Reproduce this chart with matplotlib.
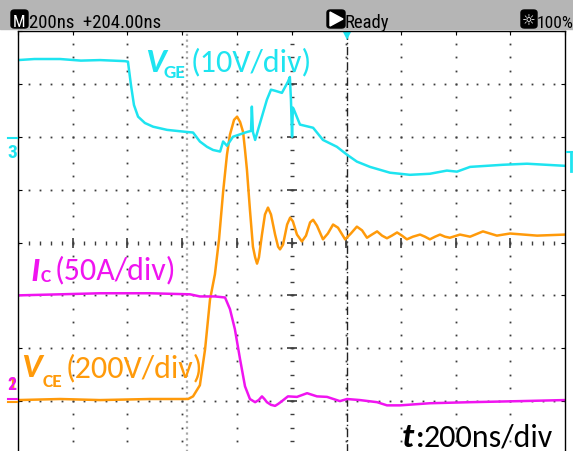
import numpy as np
import matplotlib
matplotlib.use('Agg')
import matplotlib.pyplot as plt
from matplotlib import font_manager
from matplotlib.patches import Rectangle, FancyBboxPatch, Polygon
from matplotlib.lines import Line2D

# time axis in ns (200 ns/div, 10 div), traces in screen divisions (-4..4)
vge_t = [0, 60, 154, 230, 300, 391, 402, 413, 424, 439, 464, 494, 545, 618,
         640, 665, 691, 713, 739, 750, 764, 786, 837, 852, 855, 859, 867,
         885, 910, 925, 940, 965, 987, 994, 998, 1002, 1005, 1009, 1031,
         1079, 1115, 1166, 1203, 1239, 1287, 1360, 1433, 1506, 1568, 1605,
         1653, 1773, 1861, 2000]
vge_v = [3.45, 3.47, 3.47, 3.44, 3.45, 3.43, 3.42, 2.98, 2.60, 2.38, 2.26,
         2.19, 2.13, 2.09, 2.08, 1.91, 1.81, 1.75, 1.72, 1.91, 1.83, 2.00,
         2.09, 2.11, 2.57, 2.09, 1.94, 2.26, 2.70, 2.89, 2.87, 2.83, 3.04,
         3.13, 2.70, 2.00, 2.55, 2.51, 2.23, 2.17, 1.94, 1.81, 1.66, 1.53,
         1.43, 1.32, 1.28, 1.30, 1.36, 1.34, 1.43, 1.47, 1.49, 1.45]

vce_t = [0, 154, 300, 483, 622, 640, 665, 684, 702, 720, 735, 750, 764, 775,
         790, 801, 812, 823, 830, 837, 848, 859, 867, 874, 881, 892, 903, 914,
         925, 940, 951, 958, 969, 984, 995, 1005, 1020, 1038, 1053, 1068,
         1079, 1093, 1115, 1133, 1152, 1170, 1196, 1217, 1239, 1258, 1276,
         1294, 1313, 1331, 1349, 1367, 1386, 1404, 1422, 1444, 1470, 1488,
         1506, 1525, 1543, 1561, 1579, 1616, 1653, 1700, 1751, 1799, 1898,
         2000]
vce_v = [-2.98, -2.96, -2.98, -2.96, -2.96, -2.91, -2.70, -2.02, -1.08,
         -0.60, 0.06, 0.96, 1.66, 2.04, 2.32, 2.38, 2.28, 2.09, 1.75, 1.38,
         0.62, -0.08, -0.28, -0.40, -0.28, 0.15, 0.53, 0.66, 0.53, 0.15,
         -0.08, -0.13, -0.04, 0.34, 0.47, 0.40, 0.15, 0.02, 0.13, 0.38, 0.43,
         0.32, 0.06, 0.17, 0.34, 0.28, 0.06, 0.17, 0.30, 0.23, 0.09, 0.15,
         0.21, 0.13, 0.08, 0.13, 0.19, 0.13, 0.06, 0.11, 0.15, 0.11, 0.06,
         0.11, 0.15, 0.11, 0.09, 0.15, 0.11, 0.21, 0.13, 0.17, 0.13, 0.15]

ic_t = [0, 154, 300, 483, 629, 665, 720, 757, 775, 793, 812, 830, 848, 867,
        880, 892, 901, 910, 925, 940, 952, 965, 987, 1020, 1057, 1093, 1130,
        1177, 1203, 1250, 1313, 1349, 1397, 1506, 1653, 1835, 2000]
ic_v = [-1.00, -0.98, -0.96, -0.96, -0.98, -1.02, -1.02, -1.04, -1.26,
        -1.64, -2.21, -2.72, -2.96, -3.02, -2.98, -2.91, -2.96, -3.02, -3.07,
        -3.09, -3.05, -3.00, -2.91, -2.92, -2.85, -2.91, -2.92, -3.00, -2.96,
        -2.98, -3.02, -3.08, -3.08, -3.04, -3.02, -3.00, -2.98]

trig_t = 1204      # trigger position (+204 ns from centre)
cursor_t = 618     # grey dotted marker

W, H = 573, 452
CYAN = '#1ee4f0'
MAG = '#f014f0'
ORA = '#ff9a0a'
GRID = '#3c3c3c'


def pick_font(names):
    for n in names:
        try:
            font_manager.findfont(n, fallback_to_default=False)
            return n
        except ValueError:
            pass
    return 'DejaVu Sans'


lab_font = pick_font(['Carlito', 'Lato', 'Open Sans'])
bar_font = pick_font(['Liberation Sans Narrow', 'DejaVu Sans Condensed',
                      'Roboto Condensed', 'Liberation Sans'])


def ftext(x, y, s, **kw):
    # x, y in pixels from the top-left corner
    return fig.text(x / W, 1 - y / H, s, **kw)


fig = plt.figure(figsize=(W / 100, H / 100), dpi=100)
ax = fig.add_axes([18 / W, 1 - 455 / H, 547 / W, 423 / H])
ax.set_xlim(0, 2000)
ax.set_ylim(-4, 4)
for s in ['left', 'top', 'right']:
    ax.spines[s].set_linewidth(1.0)
    ax.spines[s].set_color('black')
ax.spines['bottom'].set_visible(False)
ax.set_xticks(np.arange(0, 2001, 200))
ax.set_yticks(np.arange(-4, 4.1, 1))
ax.tick_params(direction='in', length=3, width=0.8, top=True, bottom=False,
               left=True, right=True, labelbottom=False, labelleft=False)

# graticule dots
xdiv = np.arange(200, 2000, 200)
ydiv = np.arange(-3, 4, 1)
ysub = np.arange(-4, 4.001, 0.25)
xsub = np.arange(0, 2000.1, 40)
for x in xdiv:
    if x == 1000:
        continue
    ax.plot(np.full_like(ysub, x), ysub, ls='none', marker='s', ms=1.3,
            mew=0, color=GRID)
for y in ydiv:
    if y == 0:
        continue
    ax.plot(xsub, np.full_like(xsub, y), ls='none', marker='s', ms=1.3,
            mew=0, color=GRID)
# centre axes with ticks
ax.plot(np.full_like(ysub, 1000), ysub, ls='none', marker='_', ms=3,
        mew=1, color=GRID)
ax.plot(np.full(len(ydiv), 1000), ydiv, ls='none', marker='_', ms=7,
        mew=1.2, color=GRID)
ax.plot(xsub, np.zeros_like(xsub), ls='none', marker='|', ms=3, mew=1,
        color=GRID)
ax.plot(xdiv, np.zeros(len(xdiv)), ls='none', marker='|', ms=7, mew=1.2,
        color=GRID)

ax.axvline(cursor_t, color='#a8a8a8', lw=1.6, ls=(0, (1, 1.6)))
ax.axvline(trig_t, color='#222222', lw=1.0, ls=(0, (6, 2, 1, 2)))
ax.plot([trig_t], [3.9], marker='v', ms=6, color=CYAN, mew=0,
        clip_on=False)

# traces
ax.plot(vce_t, vce_v, color=ORA, lw=1.8, solid_joinstyle='round')
ax.plot(ic_t, ic_v, color=MAG, lw=1.8, solid_joinstyle='round')
ax.plot(vge_t, vge_v, color=CYAN, lw=1.8, solid_joinstyle='round')

# status bar
fig.patches.append(Rectangle((0, 1 - 29.5 / H), 1, 29.5 / H,
                             transform=fig.transFigure, color='#b5b5b5',
                             zorder=0))


def icon_box(x0, x1, y0, y1):
    fig.patches.append(FancyBboxPatch(
        (x0 / W, 1 - y1 / H), (x1 - x0) / W, (y1 - y0) / H,
        boxstyle='round,pad=0,rounding_size=0.006',
        transform=fig.transFigure, color='black', zorder=1))


icon_box(11, 28, 11, 29)
ftext(19.5, 27, 'M', color='white', fontsize=12, ha='center',
      va='baseline', family=bar_font)
ftext(29, 27.5, '200ns  +204.00ns', color='black', fontsize=13.5,
      va='baseline', family=bar_font)
icon_box(327, 345, 11, 29)
fig.patches.append(Polygon([(330 / W, 1 - 13 / H), (330 / W, 1 - 27 / H),
                            (343 / W, 1 - 20 / H)], closed=True,
                           transform=fig.transFigure, color='white',
                           zorder=2))
ftext(345, 27.5, 'Ready', color='black', fontsize=13.5, va='baseline',
      family=bar_font)
icon_box(521, 537, 11, 29)
ftext(529, 25.5, '\u263c', color='white', fontsize=11, ha='center',
      va='baseline', family='DejaVu Sans')
ftext(537, 27.5, '100%', color='black', fontsize=12.5, va='baseline',
      family=bar_font)

# channel markers
ftext(12.5, 158, '3', color=CYAN, fontsize=14, fontweight='bold',
      ha='center', va='baseline', family=bar_font)
fig.lines.append(Line2D([8 / W, 17 / W], [1 - 139 / H] * 2, color=CYAN,
                        lw=1.5, transform=fig.transFigure))
ftext(12, 390, '1', color=ORA, fontsize=13, fontweight='bold',
      ha='center', va='baseline', family=bar_font)
ftext(12, 390, '2', color=MAG, fontsize=13, fontweight='bold',
      ha='center', va='baseline', family=bar_font)
fig.lines.append(Line2D([8 / W, 17 / W], [1 - 399.5 / H] * 2, color=MAG,
                        lw=1.5, transform=fig.transFigure))
fig.lines.append(Line2D([8 / W, 17 / W], [1 - 403 / H] * 2, color=ORA,
                        lw=1.5, transform=fig.transFigure))
fig.lines.append(Line2D([567 / W, 574 / W], [1 - 153 / H] * 2, color=CYAN,
                        lw=1.5, transform=fig.transFigure))
fig.lines.append(Line2D([571 / W, 571 / W], [1 - 154 / H, 1 - 172 / H],
                        color=CYAN, lw=2, transform=fig.transFigure))

# trace labels
vkw = dict(fontsize=25, fontweight='bold', fontstyle='italic',
           family=lab_font, va='baseline')
skw = dict(fontsize=14, fontweight='bold', family=lab_font, va='baseline')
rkw = dict(fontsize=23, family=lab_font, va='baseline')

ftext(145, 72, 'V', color=CYAN, **vkw)
ftext(164, 78, 'GE', color=CYAN, **skw)
ftext(191, 71, '(10V/div)', color=CYAN, **rkw)

rest = ftext(176, 279, '(50A/div)', color=MAG, ha='right', **rkw)
c_lab = ax.annotate('C', xy=(0, 0), xycoords=rest, xytext=(-4, 2),
                    textcoords='offset pixels', ha='right', color=MAG,
                    **skw)
ax.annotate('I', xy=(0, 0), xycoords=c_lab, xytext=(-1, -1),
            textcoords='offset pixels', ha='right', color=MAG,
            fontsize=25, fontweight='bold', fontstyle='italic',
            family=lab_font, va='bottom')

ftext(21, 377, 'V', color=ORA, **vkw)
ftext(43, 387, 'CE', color=ORA, **skw)
ftext(66, 377, '(200V/div)', color=ORA, **rkw)

ftext(402, 447, 't', color='black', **vkw)
ftext(415, 447, ':', color='black', fontsize=22, fontweight='bold',
      family=lab_font, va='baseline')
ftext(424, 447, '200ns/div', color='black', fontsize=23,
      family=lab_font, va='baseline')

fig.savefig('out.png', dpi=100)
